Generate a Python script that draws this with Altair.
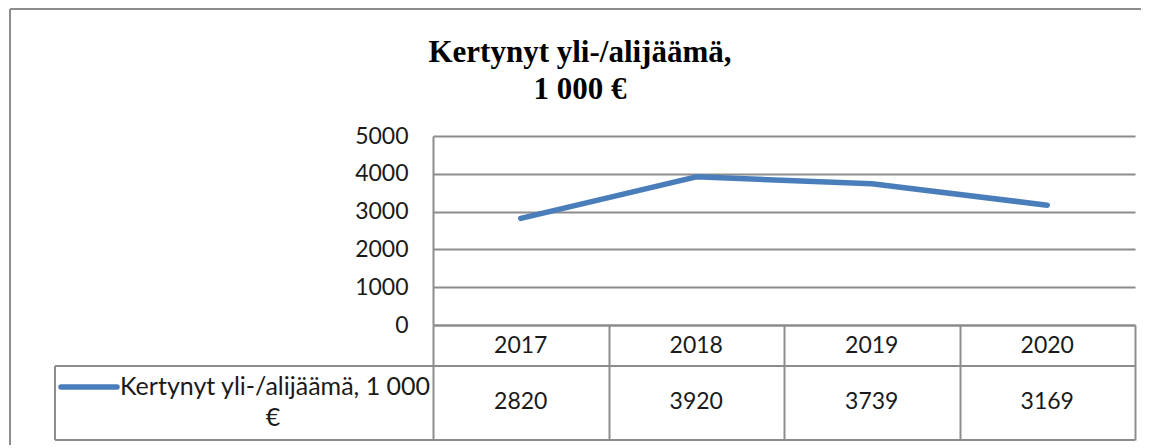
import altair as alt
import pandas as pd

years = ["2017", "2018", "2019", "2020"]
values = [2820, 3920, 3739, 3169]
y_ticks = [0, 1000, 2000, 3000, 4000, 5000]
series_name = "Kertynyt yli-/alijäämä, 1 000"
series_unit = "€"
title_lines = ["Kertynyt yli-/alijäämä,", "1 000 €"]

df = pd.DataFrame({"year": years, "value": values})

W, H = 702, 189
GRID = "#8c8c8c"
BLUE = "#4a7ebb"
TXT = "#1a1a1a"
FONT = "Lato"
FS = 23
one = alt.Data(values=[{"k": 0}])

x_enc = alt.X("year:N", sort=years,
              scale=alt.Scale(type="band", paddingInner=0, paddingOuter=0),
              axis=alt.Axis(labels=False, title=None, grid=False, ticks=True,
                            tickBand="extent", tickSize=115, tickColor=GRID, tickWidth=2,
                            domain=True, domainColor=GRID, domainWidth=2))
y_enc = alt.Y("value:Q", scale=alt.Scale(domain=[0, 5000], nice=False),
              axis=alt.Axis(values=y_ticks, format="d", title=None, grid=True, gridColor=GRID,
                            gridWidth=2, ticks=False, domain=True, domainColor=GRID, domainWidth=2,
                            labelPadding=25, labelFont=FONT, labelFontSize=FS, labelColor=TXT))

line = alt.Chart(df).mark_line(color=BLUE, strokeWidth=5.5, strokeCap="round",
                               strokeJoin="round").encode(x=x_enc, y=y_enc)

header = alt.Chart(df).mark_text(font=FONT, fontSize=FS, color=TXT, baseline="middle").encode(
    x=alt.X("year:N", sort=years), y=alt.value(210), text="year:N")
cells = alt.Chart(df).mark_text(font=FONT, fontSize=FS, color=TXT, baseline="middle").encode(
    x=alt.X("year:N", sort=years), y=alt.value(265.5), text="value:Q")

def hrule(x1, x2, y):
    return alt.Chart(one).mark_rule(color=GRID, strokeWidth=2).encode(
        x=alt.value(x1), x2=alt.value(x2), y=alt.value(y))

def vrule(x, y1, y2):
    return alt.Chart(one).mark_rule(color=GRID, strokeWidth=2).encode(
        x=alt.value(x), y=alt.value(y1), y2=alt.value(y2))

rules = [
    hrule(-378, W, 230), hrule(-378, W, 304), vrule(-378, 230, 304),
    hrule(-423, W + 30, -127), vrule(-423, -127, 330),
]

legend_line = alt.Chart(one).mark_rule(color=BLUE, strokeWidth=5.5, strokeCap="round").encode(
    x=alt.value(-372), x2=alt.value(-316), y=alt.value(251))
legend_txt1 = alt.Chart(one).mark_text(font=FONT, fontSize=25, color=TXT, align="left",
                                       baseline="middle").encode(
    x=alt.value(-313), y=alt.value(251), text=alt.value(series_name))
legend_txt2 = alt.Chart(one).mark_text(font=FONT, fontSize=25, color=TXT, align="center",
                                       baseline="middle").encode(
    x=alt.value(-160), y=alt.value(282), text=alt.value(series_unit))

t1 = alt.Chart(one).mark_text(font="Liberation Serif", fontSize=31, fontWeight="bold",
                              color="#000000", align="center", baseline="alphabetic").encode(
    x=alt.value(147), y=alt.value(-74), text=alt.value(title_lines[0]))
t2 = alt.Chart(one).mark_text(font="Liberation Serif", fontSize=31, fontWeight="bold",
                              color="#000000", align="center", baseline="alphabetic").encode(
    x=alt.value(147), y=alt.value(-37), text=alt.value(title_lines[1]))

chart = alt.layer(line, header, cells, *rules, legend_line, legend_txt1, legend_txt2, t1, t2).properties(
    width=W, height=H,
    autosize=alt.AutoSizeParams(type="none"),
    padding={"left": 425, "top": 128, "right": 6, "bottom": 120},
    background="white",
).configure_view(stroke=None)

chart.save("out.html", embed_options={"renderer": "svg", "actions": False})
